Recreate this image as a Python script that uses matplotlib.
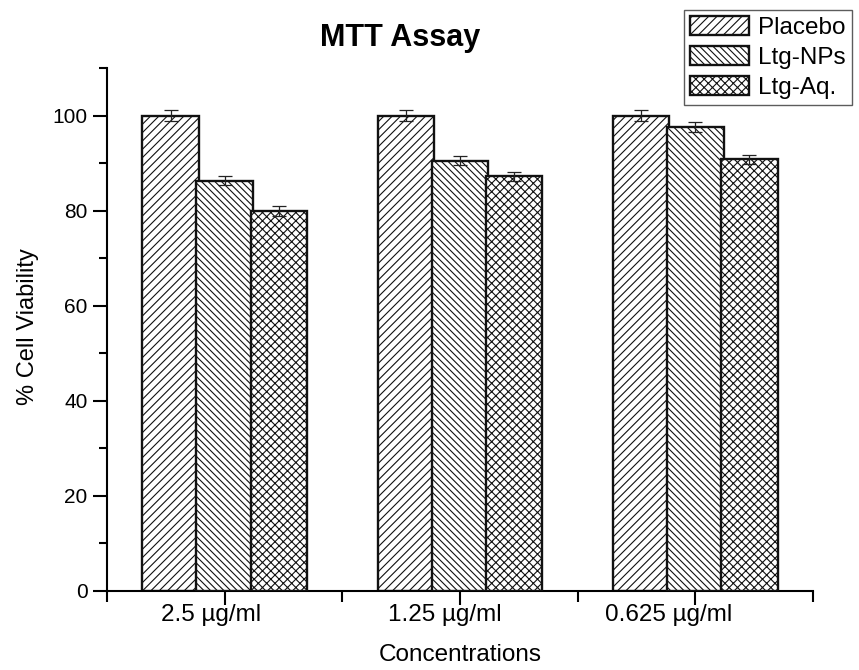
import numpy as np
import matplotlib
matplotlib.use('Agg')
import matplotlib.pyplot as plt
import matplotlib.transforms as mtransforms
from matplotlib.ticker import MultipleLocator, FixedLocator

plt.rcParams['font.family'] = ['Liberation Sans', 'DejaVu Sans']
plt.rcParams['hatch.linewidth'] = 0.8
plt.rcParams['hatch.color'] = '#333333'

#data
concentrations = ['2.5 \u00b5g/ml', '1.25 \u00b5g/ml', '0.625 \u00b5g/ml']
series = ['Placebo', 'Ltg-NPs', 'Ltg-Aq.']
placebo = [100.0, 100.0, 100.0]
ltg_nps = [86.3, 90.5, 97.6]
ltg_aq = [79.9, 87.2, 90.8]
placebo_err = [1.1, 1.1, 1.1]
ltg_nps_err = [1.0, 1.0, 1.0]
ltg_aq_err = [1.0, 1.0, 1.0]

values = [placebo, ltg_nps, ltg_aq]
errors = [placebo_err, ltg_nps_err, ltg_aq_err]
hatches = ['////', '\\\\\\\\\\', 'xxxx']
offsets = [-0.23, 0.0, 0.23]
width = 0.24

fig = plt.figure(figsize=(8.59, 6.70), dpi=100)
ax = fig.add_axes([107/859, 1-591/670, (813-107)/859, (591-68)/670])

x = np.arange(1, len(concentrations)+1)
handles = []
for i in range(len(series)):
  b = ax.bar(x + offsets[i], values[i], width, color='white', edgecolor='#111111',
             linewidth=1.7, hatch=hatches[i], label=series[i], zorder=2+i)
  ax.errorbar(x + offsets[i], values[i], yerr=errors[i], fmt='none', ecolor='#222222',
              elinewidth=0.9, capsize=5, capthick=0.9, zorder=10)
  handles.append(b)

ax.set_xlim(0.5, 3.5)
ax.set_ylim(0, 110)

ax.spines['top'].set_visible(False)
ax.spines['right'].set_visible(False)
ax.spines['left'].set_linewidth(1.5)
ax.spines['bottom'].set_linewidth(1.5)

ax.yaxis.set_major_locator(MultipleLocator(20))
ax.yaxis.set_minor_locator(MultipleLocator(10))
ax.xaxis.set_major_locator(FixedLocator(x))
ax.xaxis.set_minor_locator(FixedLocator([0.5, 1.5, 2.5, 3.5]))
ax.tick_params(axis='y', which='major', direction='out', length=10, width=1.5, labelsize=15, pad=4)
ax.tick_params(axis='y', which='minor', direction='out', length=6, width=1.5)
ax.tick_params(axis='x', which='major', direction='out', length=10, width=1.5, labelsize=17.5, pad=-1)
ax.tick_params(axis='x', which='minor', direction='out', length=8, width=1.5)

ax.set_xticks(x)
ax.set_xticklabels(concentrations)
#labels in the original sit a little left of the ticks
shifts = [-14, -15, -27]
for lab, dx in zip(ax.get_xticklabels(), shifts):
  lab.set_transform(lab.get_transform() + mtransforms.ScaledTranslation(dx/100, 0, fig.dpi_scale_trans))

fig.text(28/859, 1-327/670, '% Cell Viability', rotation=90, fontsize=17,
         ha='center', va='center')
fig.text(460/859, 1-655/670, 'Concentrations', fontsize=17.5, ha='center', va='center')
fig.text(400/859, 1-38/670, 'MTT Assay', fontsize=22, fontweight='bold',
         ha='center', va='center')

leg = fig.legend(handles=handles, loc='upper right', bbox_to_anchor=(852/859, 1-10/670),
                 fontsize=17.5, frameon=True, fancybox=False, edgecolor='#333333',
                 handlelength=2.4, handleheight=0.8, handletextpad=0.4,
                 labelspacing=0.3, borderpad=0.25, borderaxespad=0.0)
leg.get_frame().set_linewidth(1.0)

fig.savefig('out.png', dpi=100)
